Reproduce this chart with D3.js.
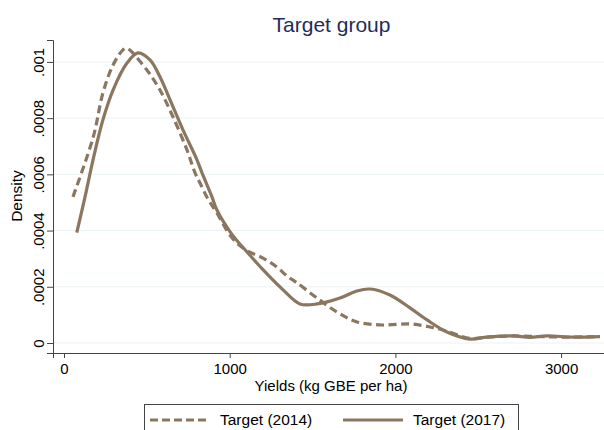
<!DOCTYPE html>
<html lang="en">
<head>
  <meta charset="UTF-8">
  <title>Target group</title>
  <script src="https://d3js.org/d3.v7.min.js"></script>
  <style>
    body {
      margin: 0;
      background-color: white;
    }
    svg {
      display: block;
      font-family: "Liberation Sans", Arial, sans-serif;
    }
  </style>
</head>
<body>
<script>
  // density curves
  const yield2014 = [54, 177, 235, 296, 356, 378, 499, 579, 658, 742, 791, 821, 869, 923, 984, 1038, 1110, 1201, 1285, 1346, 1406, 1527, 1648, 1768, 1925, 2088, 2209, 2287, 2360, 2450, 2553, 2710, 2915, 3072, 3230];
  const dens2014 = [0.00052, 0.000734, 0.00089, 0.000989, 0.001043, 0.001049, 0.000972, 0.0009, 0.000804, 0.000687, 0.000605, 0.000569, 0.000512, 0.000463, 0.000399, 0.000359, 0.000327, 0.000302, 0.00027, 0.000238, 0.000214, 0.00016, 0.00011, 0.000075, 0.000064, 0.000068, 0.000057, 0.000046, 0.000032, 0.000016, 0.000021, 0.000025, 0.000022, 0.000021, 0.000023];

  const yield2017 = [77, 127, 175, 235, 296, 380, 447, 519, 579, 640, 718, 803, 833, 893, 923, 1008, 1110, 1231, 1322, 1424, 1527, 1666, 1768, 1847, 1967, 2088, 2191, 2311, 2450, 2553, 2710, 2812, 2915, 3072, 3235];
  const dens2017 = [0.000393, 0.00052, 0.000651, 0.000794, 0.0009, 0.000996, 0.001032, 0.001007, 0.000947, 0.000865, 0.000758, 0.000651, 0.000605, 0.00052, 0.000473, 0.000391, 0.00032, 0.000242, 0.000189, 0.000139, 0.000139, 0.00016, 0.000185, 0.000192, 0.000171, 0.000125, 0.000082, 0.000039, 0.000014, 0.000021, 0.000025, 0.00002, 0.000025, 0.000021, 0.000023];

  const xTicks = [0, 1000, 2000, 3000];
  const yTicks = [0, 0.0002, 0.0004, 0.0006, 0.0008, 0.001];
  const yTickLabels = ["0", ".0002", ".0004", ".0006", ".0008", ".001"];
  const seriesNames = ["Target (2014)", "Target (2017)"];

  const width = 604, height = 430;
  const lineColor = "#8b7660";
  const axisColor = "#444";

  const svg = d3.select("body").append("svg")
    .attr("width", width)
    .attr("height", height);

  const x = d3.scaleLinear().domain([-66.4, 3259]).range([53, 604]);
  const y = d3.scaleLinear().domain([-0.0000356, 0.001078]).range([353, 40]);

  // grid
  svg.append("g")
    .selectAll("line")
    .data(yTicks)
    .enter().append("line")
    .attr("x1", 54).attr("x2", 604)
    .attr("y1", d => y(d)).attr("y2", d => y(d))
    .attr("stroke", "#eaf2f3")
    .attr("stroke-width", 1);

  // lines
  const line = d3.line()
    .x(d => x(d[0]))
    .y(d => y(d[1]))
    .curve(d3.curveCatmullRom);

  svg.append("path")
    .attr("d", line(d3.zip(yield2014, dens2014)))
    .attr("fill", "none")
    .attr("stroke", lineColor)
    .attr("stroke-width", 3.2)
    .attr("stroke-dasharray", "8,4.5");

  svg.append("path")
    .attr("d", line(d3.zip(yield2017, dens2017)))
    .attr("fill", "none")
    .attr("stroke", lineColor)
    .attr("stroke-width", 3.2);

  // axes
  const yAxis = svg.append("g")
    .attr("transform", "translate(53,0)")
    .call(d3.axisLeft(y).tickValues(yTicks).tickSize(6).tickFormat((d, i) => yTickLabels[i]));
  yAxis.selectAll(".tick text")
    .attr("transform", "rotate(-90)")
    .attr("x", 0)
    .attr("y", -9.5)
    .attr("dy", "0")
    .attr("text-anchor", "middle")
    .attr("font-size", 15);

  const xAxis = svg.append("g")
    .attr("transform", "translate(0,353)")
    .call(d3.axisBottom(x).tickValues(xTicks).tickSize(5).tickFormat(d3.format("d")));
  xAxis.selectAll(".tick text").attr("y", 10).attr("font-size", 15);

  svg.selectAll(".domain").attr("stroke", axisColor).attr("stroke-width", 1);
  svg.selectAll(".tick line").attr("stroke", axisColor);
  svg.selectAll(".tick text").attr("fill", "#000")
    .attr("font-family", "'Liberation Sans', Arial, sans-serif");

  // axis titles
  svg.append("text")
    .attr("x", 331).attr("y", 391)
    .attr("text-anchor", "middle")
    .attr("font-size", 15)
    .text("Yields (kg GBE per ha)");

  svg.append("text")
    .attr("transform", "translate(22,196) rotate(-90)")
    .attr("text-anchor", "middle")
    .attr("font-size", 15.5)
    .text("Density");

  // title
  svg.append("text")
    .attr("x", 331.5).attr("y", 31.5)
    .attr("text-anchor", "middle")
    .attr("font-size", 21)
    .attr("fill", "#1f2d5c")
    .text("Target group");

  // legend
  const legend = svg.append("g");
  legend.append("rect")
    .attr("x", 144.5).attr("y", 404.5)
    .attr("width", 374).attr("height", 40)
    .attr("fill", "white")
    .attr("stroke", axisColor);

  const legendItems = [
    { x: 150, dash: "8,4" },
    { x: 343, dash: null }
  ];
  legendItems.forEach((it, i) => {
    legend.append("line")
      .attr("x1", it.x).attr("x2", it.x + 60)
      .attr("y1", 420).attr("y2", 420)
      .attr("stroke", lineColor)
      .attr("stroke-width", 3.2)
      .attr("stroke-dasharray", it.dash);
    legend.append("text")
      .attr("x", it.x + 70).attr("y", 424.5)
      .attr("font-size", 15.5)
      .text(seriesNames[i]);
  });
</script>
</body>
</html>
